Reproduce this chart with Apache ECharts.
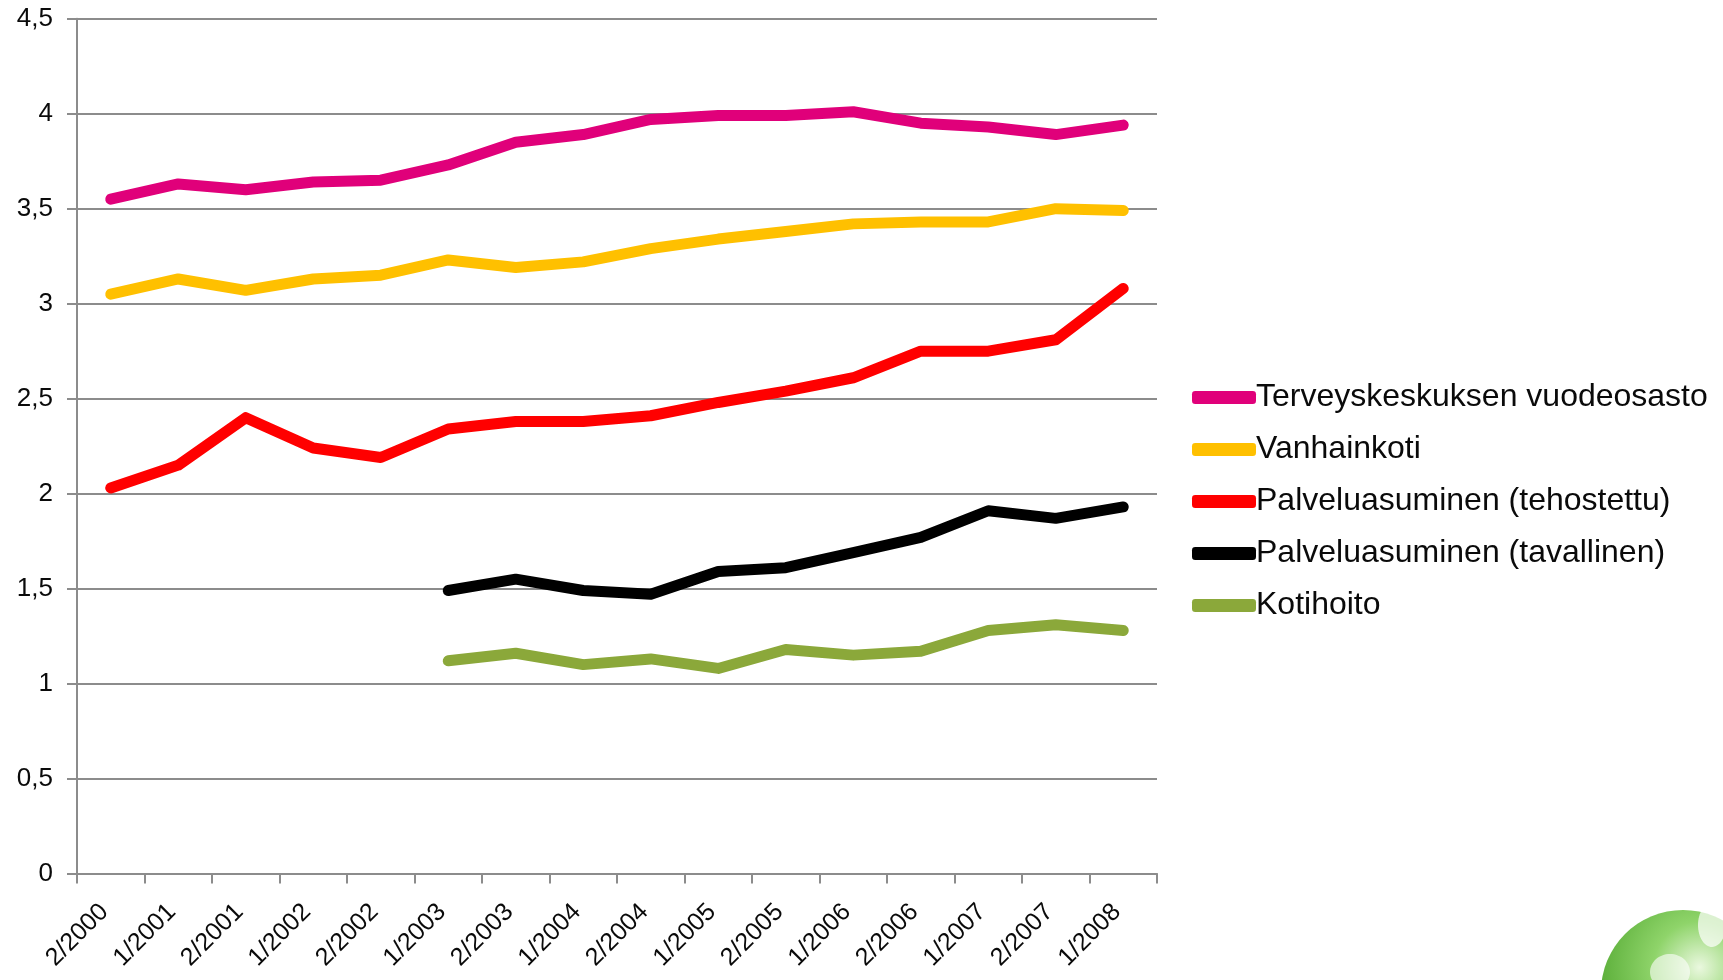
<!DOCTYPE html>
<html>
<head>
<meta charset="utf-8">
<script src="https://cdn.jsdelivr.net/npm/echarts@6/dist/echarts.min.js"></script>
<style>
html,body{margin:0;padding:0;background:#fff;}
#chart{width:1723px;height:980px;}
</style>
</head>
<body>
<div id="chart"></div>
<script>
const categories = ['2/2000','1/2001','2/2001','1/2002','2/2002','1/2003','2/2003','1/2004','2/2004','1/2005','2/2005','1/2006','2/2006','1/2007','2/2007','1/2008'];
const seriesNames = ['Terveyskeskuksen vuodeosasto','Vanhainkoti','Palveluasuminen (tehostettu)','Palveluasuminen (tavallinen)','Kotihoito'];
const terveyskeskus = [3.55,3.63,3.60,3.64,3.65,3.73,3.85,3.89,3.97,3.99,3.99,4.01,3.95,3.93,3.89,3.94];
const vanhainkoti = [3.05,3.13,3.07,3.13,3.15,3.23,3.19,3.22,3.29,3.34,3.38,3.42,3.43,3.43,3.50,3.49];
const tehostettu = [2.03,2.15,2.40,2.24,2.19,2.34,2.38,2.38,2.41,2.48,2.54,2.61,2.75,2.75,2.81,3.08];
const tavallinen = [null,null,null,null,null,1.49,1.55,1.49,1.47,1.59,1.61,1.69,1.77,1.91,1.87,1.93];
const kotihoito = [null,null,null,null,null,1.12,1.16,1.10,1.13,1.08,1.18,1.15,1.17,1.28,1.31,1.28];
const colors = ['#E0007A','#FFC000','#FF0000','#000000','#8BA83A'];
const yTicks = {min:0, max:4.5, interval:0.5};

const dataSets = [terveyskeskus, vanhainkoti, tehostettu, tavallinen, kotihoito];
const chart = echarts.init(document.getElementById('chart'), null, {renderer:'canvas'});
const fontFamily = '"Liberation Sans", Arial, sans-serif';
const gray = '#8c8c8c';
const textColor = '#0a0a0a';

chart.setOption({
  animation:false,
  backgroundColor:'#ffffff',
  grid:{left:77, right:566, top:18.7, bottom:106.4, containLabel:false},
  legend:{
    orient:'vertical',
    left:1187, top:376,
    itemWidth:64, itemHeight:13,
    itemGap:19,
    icon:'roundRect',
    data:seriesNames,
    textStyle:{fontFamily:fontFamily, fontSize:32, color:textColor, lineHeight:33, padding:[0,0,0,-5]}
  },
  xAxis:{
    type:'category',
    data:categories,
    boundaryGap:true,
    axisLine:{lineStyle:{color:gray, width:2}},
    axisTick:{show:true, length:10, lineStyle:{color:gray, width:2}},
    axisLabel:{rotate:45, fontFamily:fontFamily, fontSize:25, color:textColor, margin:28, interval:0, padding:[0,9,0,0]}
  },
  yAxis:{
    type:'value',
    min:yTicks.min, max:yTicks.max, interval:yTicks.interval,
    axisLine:{show:true, lineStyle:{color:gray, width:2}},
    axisTick:{show:true, length:10, lineStyle:{color:gray, width:2}},
    splitLine:{show:true, lineStyle:{color:gray, width:2}},
    axisLabel:{fontFamily:fontFamily, fontSize:26, color:textColor, margin:24,
      formatter:function(v){return String(v).replace('.',',');}}
  },
  series:seriesNames.map(function(n,i){
    return {
      name:n, type:'line', data:dataSets[i],
      showSymbol:false, symbol:'none',
      connectNulls:false,
      itemStyle:{color:colors[i]},
      lineStyle:{color:colors[i], width:11, cap:'round', join:'round'}
    };
  }),
  graphic:[
    {type:'circle', shape:{cx:1683, cy:992, r:82}, silent:true,
     style:{fill:new echarts.graphic.RadialGradient(0.6,0.35,0.8,[
       {offset:0,color:'#eaf8df'},{offset:0.35,color:'#8fd46a'},{offset:1,color:'#3f9a1f'}])}},
    {type:'ellipse', shape:{cx:1660, cy:938, rx:26, ry:12}, rotation:-0.35, silent:true,
     style:{fill:'rgba(255,255,255,0.75)'}},
    {type:'ellipse', shape:{cx:1712, cy:925, rx:14, ry:22}, silent:true,
     style:{fill:'rgba(255,255,255,0.7)'}},
    {type:'ellipse', shape:{cx:1670, cy:972, rx:20, ry:18}, silent:true,
     style:{fill:'rgba(255,255,255,0.6)'}}
  ]
});
</script>
</body>
</html>
